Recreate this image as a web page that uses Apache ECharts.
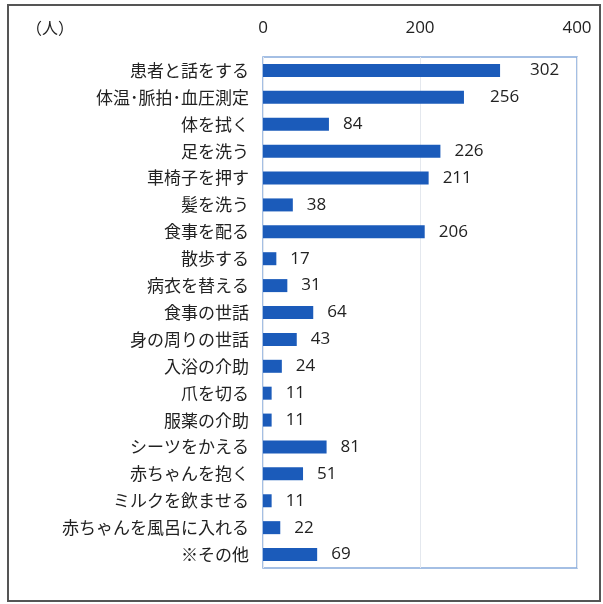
<!DOCTYPE html>
<html><head><meta charset="utf-8">
<script src="https://cdn.jsdelivr.net/npm/echarts@6/dist/echarts.min.js"></script>
<style>html,body{margin:0;padding:0;background:#fff}#c{width:603px;height:604px}</style>
</head><body><div id="c"></div>
<script>
const categories = ['患者と話をする','体温･脈拍･血圧測定','体を拭く','足を洗う','車椅子を押す','髪を洗う','食事を配る','散歩する','病衣を替える','食事の世話','身の周りの世話','入浴の介助','爪を切る','服薬の介助','シーツをかえる','赤ちゃんを抱く','ミルクを飲ませる','赤ちゃんを風呂に入れる','※その他'];
const values = [302,256,84,226,211,38,206,17,31,64,43,24,11,11,81,51,11,22,69];
const unitLabel = '（人）';
const labelDistance = {0:30, 1:26};
const chart = echarts.init(document.getElementById('c'));
chart.setOption({
  animation:false,
  backgroundColor:'#fff',
  graphic:[
    {type:'rect',shape:{x:8,y:5,width:592,height:596},style:{fill:'none',stroke:'#555',lineWidth:2}},
    {type:'text',left:26,top:20,style:{text:unitLabel,fill:'#222',font:'16px "Noto Sans CJK JP"'}}
  ],
  grid:{left:263,right:26,top:57,bottom:36,show:true,borderColor:'#86aadb',borderWidth:1.5},
  xAxis:{type:'value',position:'top',min:0,max:400,interval:200,
    axisLine:{show:false},axisTick:{show:false},
    axisLabel:{color:'#222',fontSize:17,margin:20,fontFamily:'"Open Sans", sans-serif'},
    splitLine:{show:true,lineStyle:{color:'#e4e8ee'}}},
  yAxis:{type:'category',data:categories,inverse:true,
    axisLine:{show:false},axisTick:{show:false},
    axisLabel:{color:'#222',fontSize:17,margin:14,fontFamily:'"Noto Sans CJK JP"'}},
  series:[{type:'bar',barWidth:13,
    data:values.map((v,i)=>labelDistance[i]!==undefined?{value:v,label:{distance:labelDistance[i]}}:v),
    itemStyle:{color:'#1b5bba'},
    label:{show:true,position:'right',distance:14,color:'#222',fontSize:17,fontFamily:'"Open Sans", sans-serif'}}]
});
</script></body></html>
